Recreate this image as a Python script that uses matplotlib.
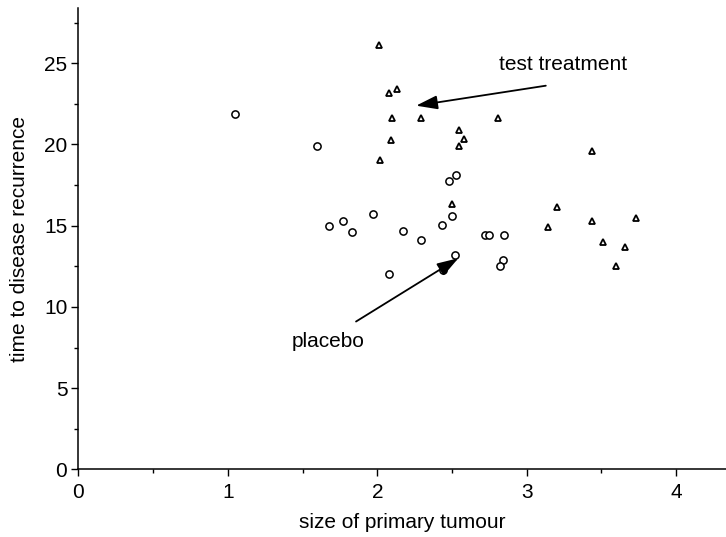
import matplotlib
matplotlib.use("Agg")
import matplotlib.pyplot as plt
from matplotlib.ticker import MultipleLocator

plt.rcParams['font.family'] = ['Liberation Sans', 'DejaVu Sans']

# Placebo group: tumour size vs time to recurrence
placebo_size = [1.05, 1.60, 2.48, 2.53, 1.68, 1.77, 1.83, 1.97, 2.17, 2.29,
                2.43, 2.50, 2.08, 2.44, 2.52, 2.72, 2.75, 2.85, 2.84, 2.82]
placebo_time = [21.9, 19.9, 17.75, 18.1, 15.0, 15.3, 14.6, 15.7, 14.7, 14.1,
                15.05, 15.6, 12.0, 12.25, 13.2, 14.4, 14.4, 14.4, 12.9, 12.5]

# Test treatment group
treat_size = [2.01, 2.13, 2.08, 2.10, 2.29, 2.09, 2.02, 2.50, 2.55, 2.58,
              2.55, 2.81, 3.44, 3.20, 3.14, 3.44, 3.73, 3.51, 3.66, 3.60]
treat_time = [26.1, 23.4, 23.15, 21.65, 21.65, 20.3, 19.05, 16.35, 20.9, 20.35,
              19.9, 21.65, 19.6, 16.15, 14.9, 15.3, 15.45, 14.0, 13.7, 12.5]

fig = plt.figure(figsize=(7.26, 5.37), dpi=100)
ax = fig.add_axes([0.108, 0.126, 0.892, 0.859])

ax.plot(placebo_size, placebo_time, linestyle='none', marker='o',
        markersize=5.2, markerfacecolor='white', markeredgecolor='black',
        markeredgewidth=1.1, clip_on=False)
ax.plot(treat_size, treat_time, linestyle='none', marker='^',
        markersize=4.6, markerfacecolor='white', markeredgecolor='black',
        markeredgewidth=1.3, clip_on=False)

ax.set_xlim(0, 4.334)
ax.set_ylim(0, 28.4)

ax.xaxis.set_major_locator(MultipleLocator(1))
ax.xaxis.set_minor_locator(MultipleLocator(0.5))
ax.yaxis.set_major_locator(MultipleLocator(5))
ax.yaxis.set_minor_locator(MultipleLocator(2.5))

for side in ('top', 'right'):
    ax.spines[side].set_visible(False)
for side in ('left', 'bottom'):
    ax.spines[side].set_linewidth(1.1)

ax.tick_params(which='major', direction='out', length=5, width=1.0,
               labelsize=15, pad=3)
ax.tick_params(axis='x', which='major', pad=5)
ax.tick_params(which='minor', direction='out', length=3, width=1.0)

ax.set_xlabel('size of primary tumour', fontsize=15, labelpad=8)
ax.set_ylabel('time to disease recurrence', fontsize=15, labelpad=11)

arrow_style = dict(arrowstyle='-|>,head_length=1.3,head_width=0.42',
                   mutation_scale=10, color='black', lw=1.3,
                   shrinkA=0, shrinkB=0)

ax.text(3.243, 24.9, 'test treatment', fontsize=15, ha='center', va='center')
ax.annotate('', xy=(2.26, 22.39), xytext=(3.128, 23.62), arrowprops=arrow_style)

ax.text(1.673, 7.85, 'placebo', fontsize=15, ha='center', va='center')
ax.annotate('', xy=(2.543, 13.0), xytext=(1.858, 9.1), arrowprops=arrow_style)

fig.savefig('out.png', dpi=100)
